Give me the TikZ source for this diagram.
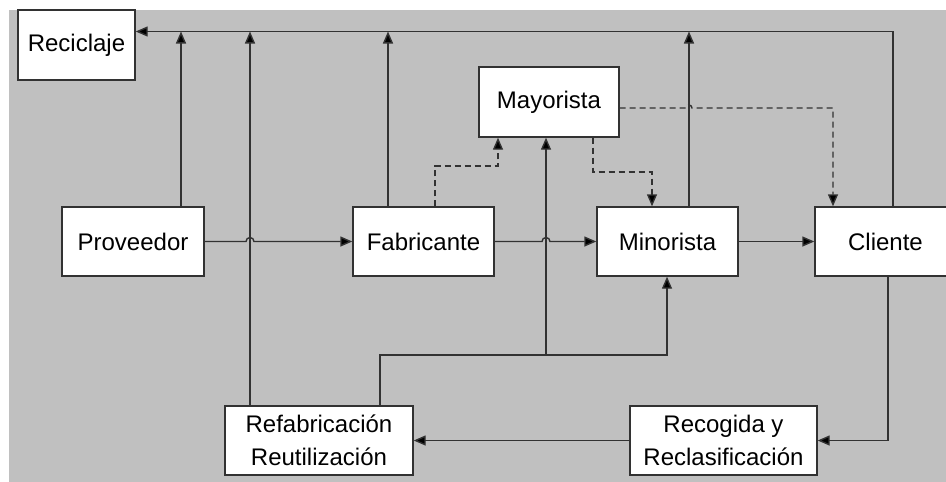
\documentclass[tikz,border=0pt]{standalone}
\usepackage{fontspec}
\setmainfont{Liberation Sans}
\usetikzlibrary{arrows.meta}
\definecolor{bggray}{RGB}{192,192,192}
\definecolor{linegray}{RGB}{50,50,50}
\tikzset{
  box/.style={draw=linegray, line width=1.4pt, fill=white, inner sep=0pt,
    minimum height=69pt, align=center,
    font=\fontsize{24}{33}\selectfont},
  conn/.style={draw=linegray, line width=1.4pt},
  arr/.style={conn, -{Triangle[length=12pt,width=10pt,fill=black]}},
  dsh/.style={conn, dash pattern=on 6pt off 4pt},
  dsharr/.style={dsh, -{Triangle[length=12pt,width=10pt,fill=black]}}
}
\begin{document}
\begin{tikzpicture}[x=1pt,y=-1pt]
  % page and grey canvas
  \useasboundingbox (0,0) rectangle (946,482);
  \fill[white] (0,0) rectangle (946,482);
  \fill[bggray] (9,10) rectangle (946,482);

  % boxes
  \node[box, minimum width=117pt, minimum height=70pt] (rec) at (76.5,45) {Reciclaje};
  \node[box, minimum width=140pt, minimum height=70pt] (may) at (549,102) {Mayorista};
  \node[box, minimum width=142pt] (prov) at (133,241.5) {Proveedor};
  \node[box, minimum width=141pt] (fab) at (423.5,241.5) {Fabricante};
  \node[box, minimum width=141pt] (mino) at (667.5,241.5) {Minorista};
  \node[box, minimum width=141pt] (cli) at (885.5,241.5) {Cliente};
  \node[box, minimum width=188pt] (refab) at (319,440.5) {Refabricación\\Reutilización};
  \node[box, minimum width=187pt] (reco) at (723.5,440.5) {Recogida y\\Reclasificación};

  % points on the recycling bus along the top
  \coordinate (t1) at (181,31.5);
  \coordinate (t2) at (250,31.5);
  \coordinate (t3) at (388,31.5);
  \coordinate (t4) at (689,31.5);
  \coordinate (t5) at (893,31.5);

  % returns to recycling
  \draw[arr] (cli.north -| t5) -- (t5) -- (rec.east |- t5);
  \draw[arr] (prov.north -| t1) -- (t1);
  \draw[arr] (refab.north -| t2) -- (t2);
  \draw[arr] (fab.north -| t3) -- (t3);
  \draw[arr] (mino.north -| t4) -- (t4);

  % forward chain with line hops
  \draw[arr] (prov.east) -- (246,241.5) arc[start angle=180, end angle=0, radius=4pt] -- (fab.west);
  \draw[arr] (fab.east) -- (542,241.5) arc[start angle=180, end angle=0, radius=4pt] -- (mino.west);
  \draw[arr] (mino.east) -- (cli.west);

  % wholesaler flows (dashed)
  \coordinate (d1) at (435,166);
  \coordinate (d2) at (498,166);
  \draw[dsharr] (fab.north -| d1) -- (d1) -- (d2) -- (may.south -| d2);
  \coordinate (d3) at (593,172);
  \coordinate (d4) at (652,172);
  \draw[dsharr] (may.south -| d3) -- (d3) -- (d4) -- (mino.north -| d4);
  \coordinate (d5) at (833,108);
  \draw[dsharr] (may.east |- d5) -- (686,108) arc[start angle=180, end angle=0, radius=3pt] -- (d5) -- (cli.north -| d5);

  % reverse logistics
  \coordinate (r1) at (888,440.5);
  \draw[arr] (cli.south -| r1) -- (r1) -- (reco.east);
  \draw[arr] (reco.west) -- (refab.east);
  \coordinate (u1) at (380,355);
  \coordinate (u2) at (667,355);
  \coordinate (u3) at (546,355);
  \draw[arr] (refab.north -| u1) -- (u1) -- (u2) -- (mino.south -| u2);
  \draw[arr] (u3) -- (may.south -| u3);
\end{tikzpicture}
\end{document}
